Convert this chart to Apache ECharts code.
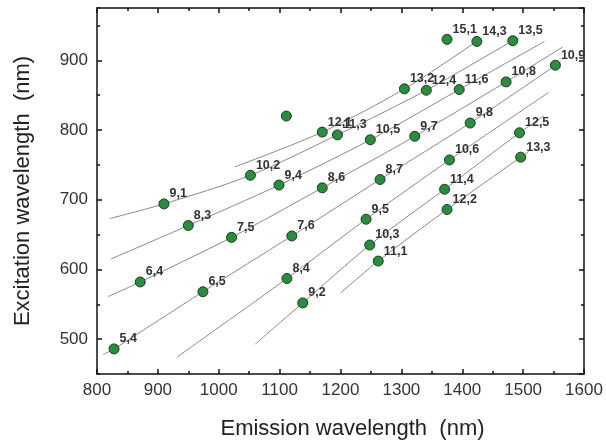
<!DOCTYPE html>
<html>
<head>
<meta charset="utf-8">
<script src="https://cdn.jsdelivr.net/npm/echarts@6/dist/echarts.min.js"></script>
<style>
html,body{margin:0;padding:0;background:#fff;}
#c{width:606px;height:445px;}
</style>
</head>
<body>
<div id="c"></div>
<script>
// Chirality labels (n,m) of the measured points
const pointLabels = ['5,4','6,4','6,5','8,4','9,2','9,1','8,3','7,5','7,6','10,2','9,4','8,6',
  '12,1','11,3','10,5','','8,7','9,5','10,3','11,1','12,2','11,4','10,6','9,7','9,8',
  '12,5','13,3','15,1','14,3','13,5','13,2','12,4','11,6','10,8','10,9'];
// Emission wavelength (nm)
const emission = [828,871,974,1112,1138,910,950,1021,1120,1052,1099,1170,
  1170,1195,1249,1111,1265,1242,1248,1262,1375,1371,1379,1322,1413,
  1494,1496,1375,1424,1483,1305,1341,1395,1472,1553];
// Excitation wavelength (nm)
const excitation = [486,582,568,587,552,694,663,646,648,735,721,717,
  797,793,786,820,729,672,635,612,686,715,757,791,810,
  796,761,930,927,928,859,857,858,869,893];

// Family guide lines (n-m = const), vertices
const lineNm1X = [810,828,974,1120,1265,1413,1554,1562];
const lineNm1Y = [478,486,568,648,729,810,893,898];
const lineNm2X = [818,871,1021,1170,1322,1472,1565];
const lineNm2Y = [561,582,646,717,791,869,919];
const lineNm4X = [931,1112,1242,1379,1542];
const lineNm4Y = [474,587,672,757,854];
const lineNm5X = [823,950,1099,1249,1395,1535];
const lineNm5Y = [615,663,721,786,858,927];
const lineNm7X = [1060,1138,1248,1371,1494,1534];
const lineNm7Y = [493,552,635,715,796,820];
const lineNm8X = [821,910,1052,1195,1341,1483,1493];
const lineNm8Y = [673,694,735,793,857,928,932];
const lineNm10X = [1200,1262,1375,1496,1509];
const lineNm10Y = [566,612,686,761,769];
const lineNm11X = [1026,1170,1305,1424,1432];
const lineNm11Y = [747,797,859,927,932];

const guideLines = [
  [lineNm1X,lineNm1Y],[lineNm2X,lineNm2Y],[lineNm4X,lineNm4Y],[lineNm5X,lineNm5Y],
  [lineNm7X,lineNm7Y],[lineNm8X,lineNm8Y],[lineNm10X,lineNm10Y],[lineNm11X,lineNm11Y]
];

// Axis settings
const xMin = 800, xMax = 1600, xStep = 100;
const yMin = 450, yMax = 975, yStep = 100, yMinorStep = 50;

const FONT = '"Liberation Sans", Arial, sans-serif';
const lineStyleAxis = {color:'#111', width:1.5};

const series = [];
guideLines.forEach(function(g){
  series.push({
    type:'line', xAxisIndex:0, yAxisIndex:0,
    data: g[0].map(function(x,i){return [x,g[1][i]];}),
    showSymbol:false, symbol:'none', smooth:0.3, silent:true,
    lineStyle:{color:'#8a8a8a', width:1}, z:2
  });
});
series.push({
  type:'scatter', xAxisIndex:0, yAxisIndex:0,
  data: emission.map(function(x,i){return {value:[x,excitation[i]], name:pointLabels[i]};}),
  symbol:'circle', symbolSize:10,
  itemStyle:{color:'#2b8c3d', borderColor:'#1d3d22', borderWidth:1, opacity:1},
  label:{show:true, position:'right', distance:0, offset:[0,-10],
    formatter:function(p){return p.name;},
    fontFamily:FONT, fontSize:12.5, fontWeight:'bold', color:'#333'},
  z:5
});

const option = {
  animation:false,
  backgroundColor:'#fff',
  grid:{left:97, right:22, top:8, bottom:68, containLabel:false},
  xAxis:[
    {type:'value', position:'bottom', min:xMin, max:xMax, interval:xStep,
     name:'Emission wavelength  (nm)', nameLocation:'middle', nameGap:44,
     nameTextStyle:{fontFamily:FONT, fontSize:22, color:'#222', padding:[0,0,0,24]},
     axisLine:{show:true, onZero:false, lineStyle:lineStyleAxis},
     axisTick:{show:true, inside:true, length:5, lineStyle:{color:'#111', width:1.5}},
     minorTick:{show:true, splitNumber:2, length:3, lineStyle:{color:'#111', width:1.5}},
     axisLabel:{fontFamily:FONT, fontSize:17, color:'#333', margin:8,
       formatter:function(v){return String(v);}},
     splitLine:{show:false}},
    {type:'value', position:'top', min:xMin, max:xMax, interval:xStep,
     axisLine:{show:true, onZero:false, lineStyle:lineStyleAxis},
     axisTick:{show:true, inside:true, length:5, lineStyle:{color:'#111', width:1.5}},
     minorTick:{show:true, splitNumber:2, length:3, lineStyle:{color:'#111', width:1.5}},
     axisLabel:{show:false}, splitLine:{show:false}}
  ],
  yAxis:[
    {type:'value', position:'left', min:yMin, max:yMax, splitNumber:5,
     minInterval:yStep, maxInterval:yStep,
     name:'Excitation wavelength  (nm)', nameLocation:'middle', nameGap:63, nameRotate:90,
     nameTextStyle:{fontFamily:FONT, fontSize:22, color:'#222'},
     axisLine:{show:true, onZero:false, lineStyle:lineStyleAxis},
     axisTick:{show:true, inside:true, length:5, lineStyle:{color:'#111', width:1.5}},
     axisLabel:{fontFamily:FONT, fontSize:17, color:'#333', margin:9,
       showMinLabel:false, showMaxLabel:false,
       formatter:function(v){return (v % yStep === 0) ? String(v) : '';}},
     splitLine:{show:false}},
    {type:'value', position:'left', min:yMin, max:yMax, interval:yMinorStep,
     axisLine:{show:false, onZero:false},
     axisTick:{show:true, inside:true, length:3, lineStyle:{color:'#111', width:1.5}},
     axisLabel:{show:false}, splitLine:{show:false}},
    {type:'value', position:'right', min:yMin, max:yMax, splitNumber:5,
     minInterval:yStep, maxInterval:yStep,
     axisLine:{show:true, onZero:false, lineStyle:lineStyleAxis},
     axisTick:{show:true, inside:true, length:5, lineStyle:{color:'#111', width:1.5}},
     axisLabel:{show:false}, splitLine:{show:false}},
    {type:'value', position:'right', min:yMin, max:yMax, interval:yMinorStep,
     axisLine:{show:false, onZero:false},
     axisTick:{show:true, inside:true, length:3, lineStyle:{color:'#111', width:1.5}},
     axisLabel:{show:false}, splitLine:{show:false}}
  ],
  series: series
};

const chart = echarts.init(document.getElementById('c'), null, {renderer:'canvas'});
chart.setOption(option);
</script>
</body>
</html>
